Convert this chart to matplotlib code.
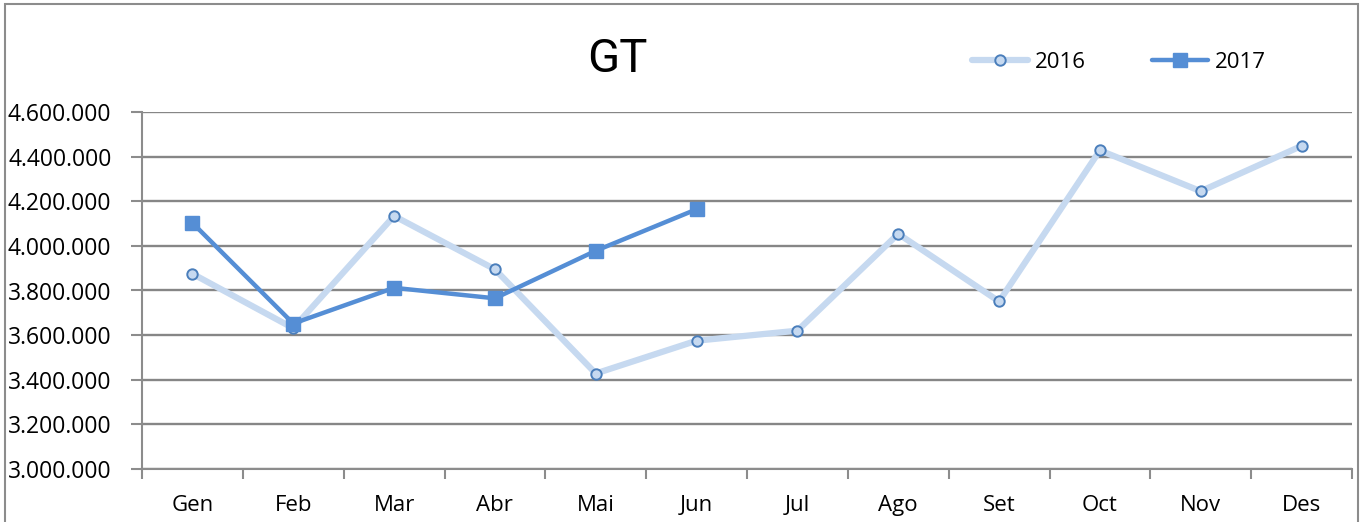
import matplotlib
matplotlib.use("Agg")
import matplotlib.pyplot as plt
from matplotlib.patches import Rectangle
from matplotlib.ticker import FuncFormatter, FixedLocator

months = ["Gen", "Feb", "Mar", "Abr", "Mai", "Jun", "Jul", "Ago", "Set", "Oct", "Nov", "Des"]
values_2016 = [3875000, 3631000, 4134000, 3895000, 3428000, 3575000, 3620000, 4054000, 3751000, 4428000, 4245000, 4448000]
values_2017 = [4103000, 3652000, 3812000, 3765000, 3978000, 4164000]
yticks = [3000000, 3200000, 3400000, 3600000, 3800000, 4000000, 4200000, 4400000, 4600000]
title = "GT"

plt.rcParams['font.family'] = ['Open Sans', 'DejaVu Sans']

W, H = 1365, 522
fig = plt.figure(figsize=(W / 100, H / 100), dpi=100)
fig.patch.set_facecolor("white")

# outer chart border
fig.add_artist(Rectangle((5 / W, -0.05), (1358 - 5) / W, 1.05 - 4 / H,
                         transform=fig.transFigure, fill=False,
                         edgecolor="#8c8c8c", linewidth=1.5))

left, right, top, bottom = 142, 1352, 112, 469
ax = fig.add_axes([left / W, 1 - bottom / H, (right - left) / W, (bottom - top) / H])

x16 = list(range(len(values_2016)))
x17 = list(range(len(values_2017)))

ax.plot(x16, values_2016, color="#c6d9f0", linewidth=4.5, marker="o",
        markersize=7.5, markerfacecolor="#c6d9f0", markeredgecolor="#4a7ebb",
        markeredgewidth=1.4, label="2016", zorder=3, solid_capstyle="round")
ax.plot(x17, values_2017, color="#558ed5", linewidth=3.2, marker="s",
        markersize=9.5, markerfacecolor="#558ed5", markeredgecolor="#558ed5",
        label="2017", zorder=4, solid_capstyle="round")

ax.set_xlim(-0.5, len(months) - 0.5)
ax.set_ylim(yticks[0], yticks[-1])

ax.set_xticks(x16)
ax.set_xticklabels(months, fontsize=16)
ax.xaxis.set_minor_locator(FixedLocator([i - 0.5 for i in range(len(months) + 1)]))
ax.tick_params(axis="x", which="major", length=0, pad=19)
ax.tick_params(axis="x", which="minor", length=7, width=1.5, color="#8c8c8c", direction="out")

ax.set_yticks(yticks)
ax.yaxis.set_major_formatter(FuncFormatter(lambda v, p: f"{int(v):,}".replace(",", ".")))
ax.tick_params(axis="y", length=8, width=1.5, color="#8c8c8c", labelsize=16.5, pad=14)

ax.grid(axis="y", color="#868686", linewidth=1.7)
ax.set_axisbelow(True)

for s in ["top", "right"]:
    ax.spines[s].set_visible(False)
for s in ["left", "bottom"]:
    ax.spines[s].set_color("#8c8c8c")
    ax.spines[s].set_linewidth(1.5)

fig.text(617 / W, 1 - 59 / H, title, fontsize=34, ha="center", va="center",
         family=["Roboto", "DejaVu Sans"], fontweight="normal")

leg = fig.legend(loc="center", bbox_to_anchor=(1119 / W, 1 - 62 / H), ncol=2,
                 frameon=False, fontsize=16, handlelength=2.5, columnspacing=3.0,
                 handletextpad=0.3)

fig.savefig("out.png", dpi=100, facecolor="white")
